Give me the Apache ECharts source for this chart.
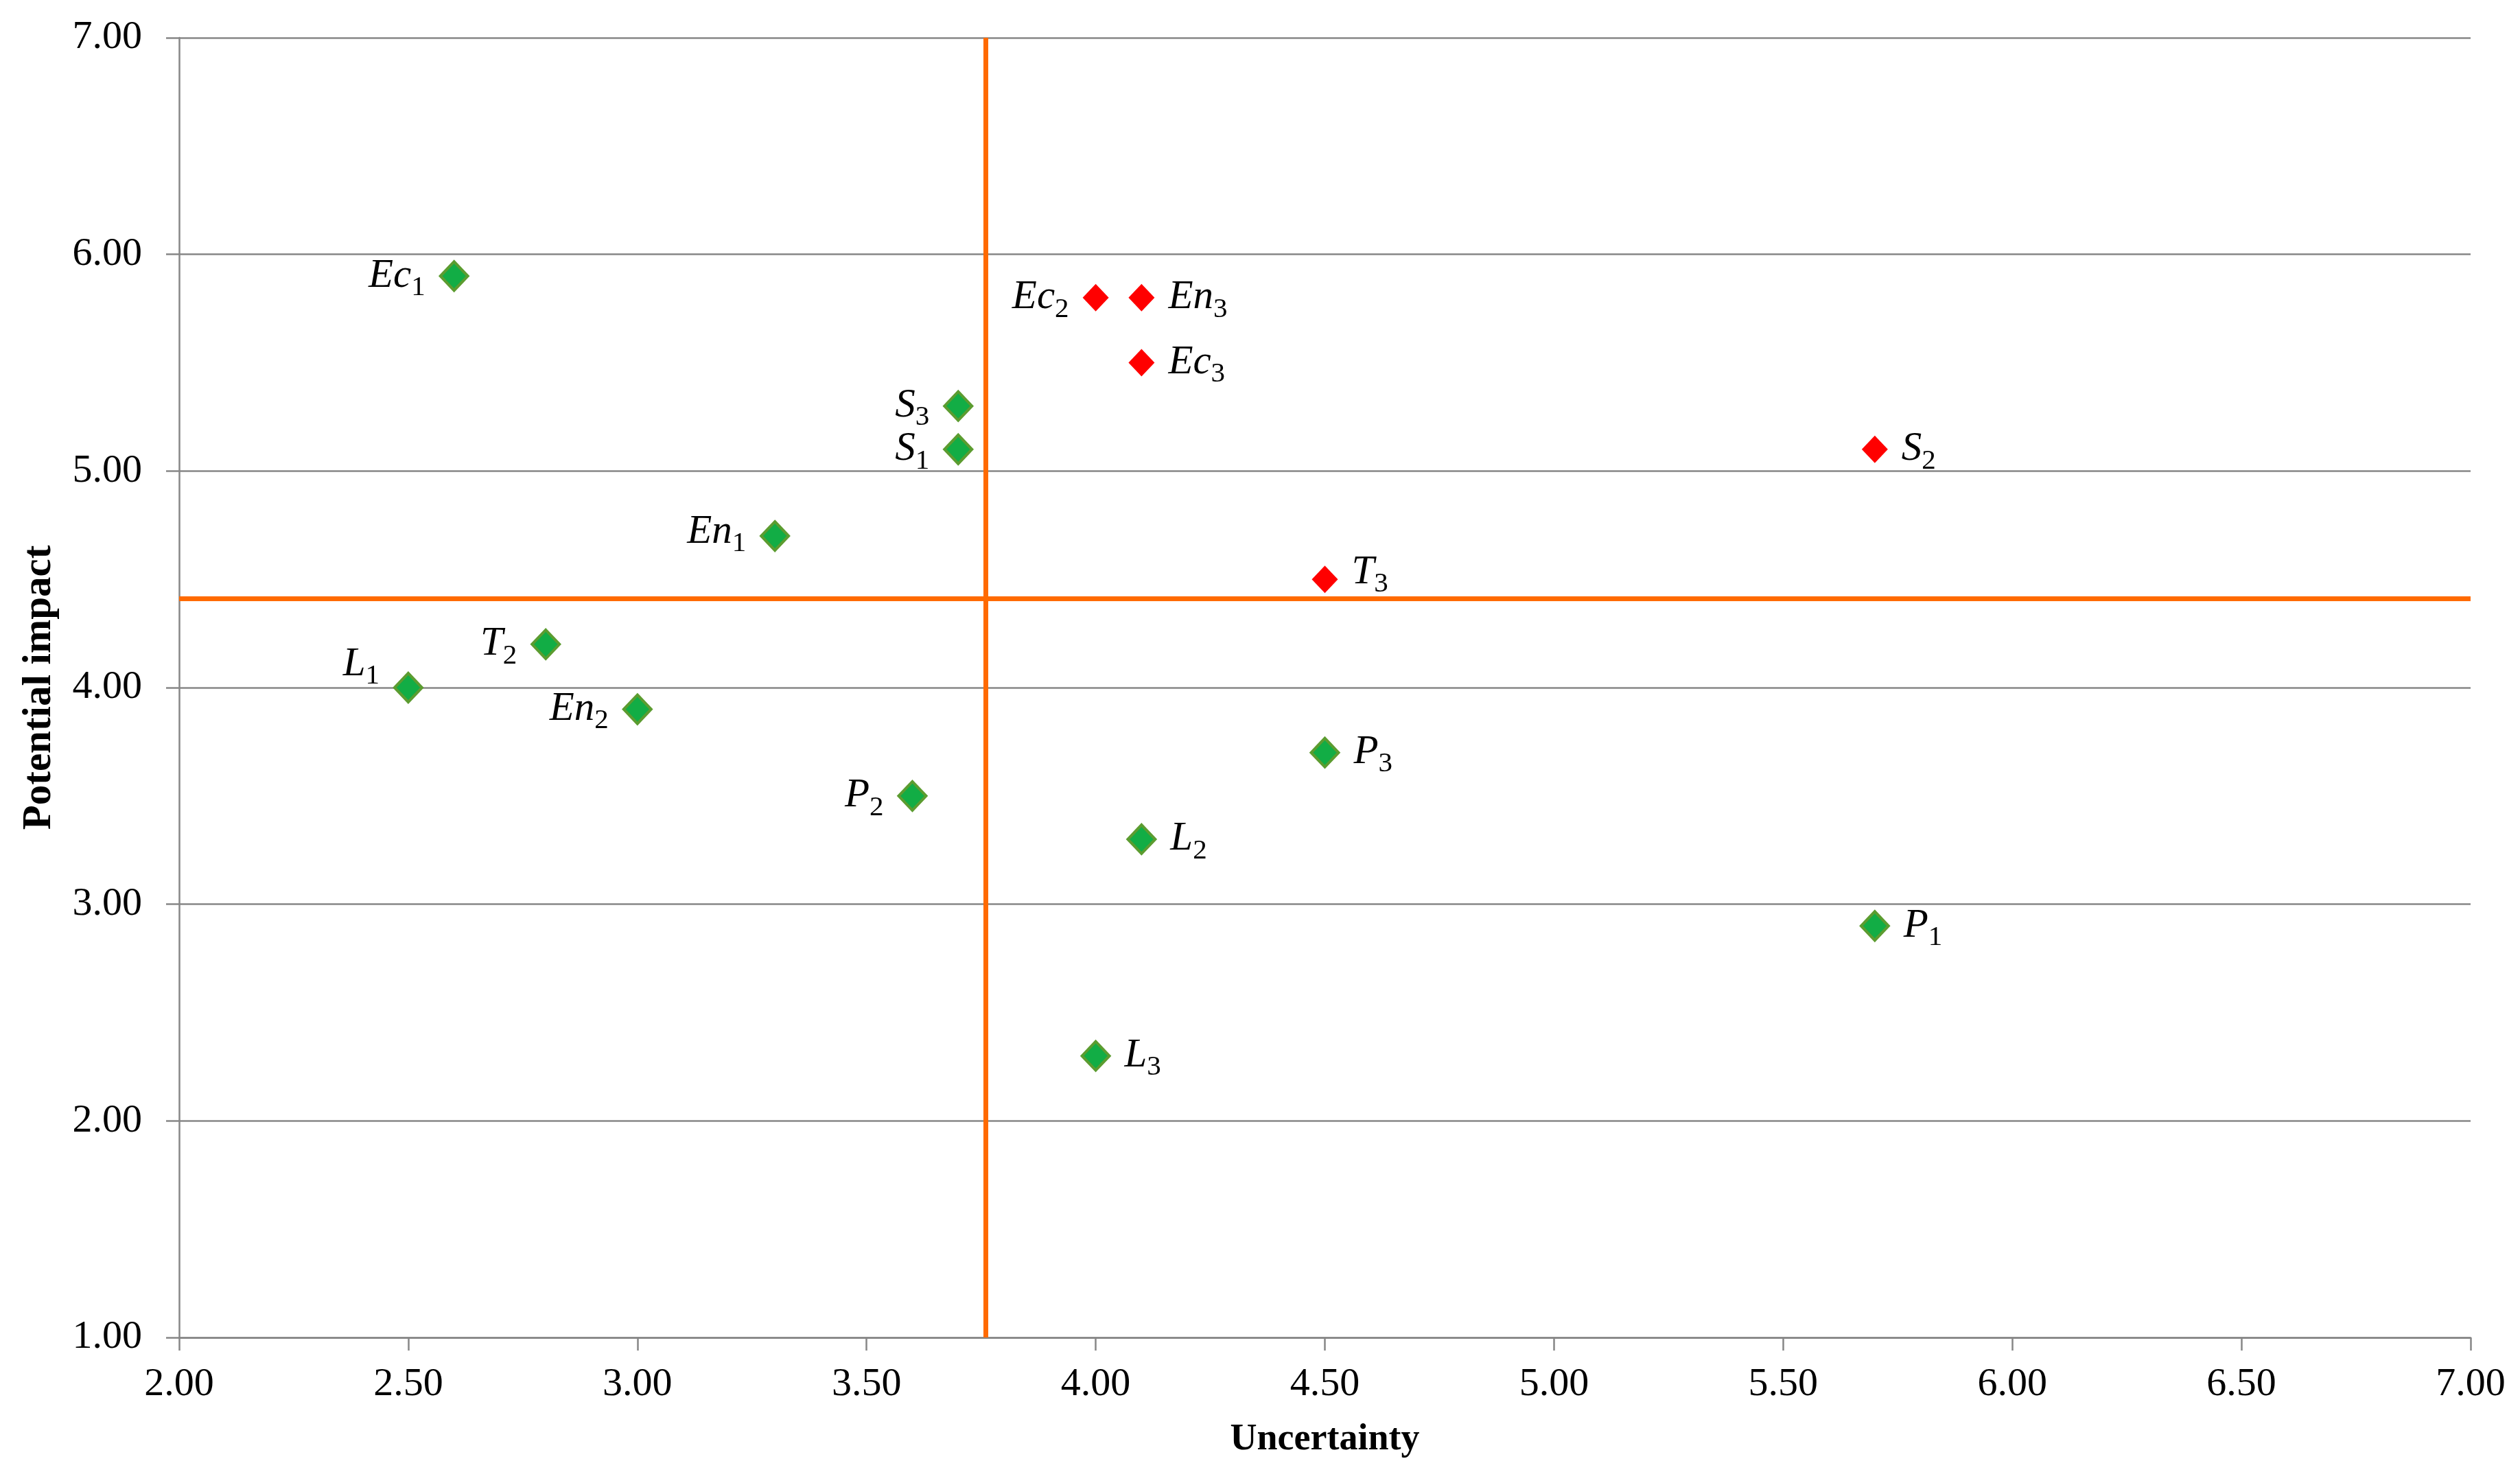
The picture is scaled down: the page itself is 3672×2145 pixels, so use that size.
<!DOCTYPE html>
<html>
<head>
<meta charset="utf-8">
<title>Uncertainty / Potential impact</title>
<script src="https://cdn.jsdelivr.net/npm/echarts@6/dist/echarts.min.js"></script>
<style>
    html, body {margin: 0; padding: 0; background: #fff;}
    #g-echart {width: 3672px; height: 2145px;}
</style>
</head>
<body>
<div id="g-echart"></div>
<script>
// 数据: 名称 / 下标 / 不确定性(x) / 潜在影响(y)
var greenNames = ['Ec', 'S', 'S', 'En', 'T', 'L', 'En', 'P', 'P', 'L', 'P', 'L'];
var greenSubs = ['1', '3', '1', '1', '2', '1', '2', '2', '3', '2', '1', '3'];
var greenX = [2.6, 3.7, 3.7, 3.3, 2.8, 2.5, 3.0, 3.6, 4.5, 4.1, 5.7, 4.0];
var greenY = [5.9, 5.3, 5.1, 4.7, 4.2, 4.0, 3.9, 3.5, 3.7, 3.3, 2.9, 2.3];

var redNames = ['Ec', 'En', 'Ec', 'S', 'T'];
var redSubs = ['2', '3', '3', '2', '3'];
var redX = [4.0, 4.1, 4.1, 5.7, 4.5];
var redY = [5.8, 5.8, 5.5, 5.1, 4.5];

// 分界线
var splitX = 3.76;
var splitY = 4.41;

var xTicks = [2, 7, 0.5];
var yTicks = [1, 7, 1];

// 标签放在左边的点, 以及少量上移
var leftLabels = ['Ec1', 'S3', 'S1', 'En1', 'T2', 'L1', 'En2', 'P2', 'Ec2'];
var labelLift = {'L1': -34, 'T3': -10, 'En1': -6};

var FONT = '"Liberation Serif", "Times New Roman", serif';

var buildData = function (names, subs, xs, ys) {
    return names.map(function (n, i) {
        var key = n + subs[i];
        var left = leftLabels.indexOf(key) >= 0;
        return {
            value: [xs[i], ys[i]],
            label: {
                show: true,
                position: left ? 'left' : 'right',
                distance: 20,
                offset: [0, labelLift[key] || 0],
                formatter: '{m|' + n + '}{s|' + subs[i] + '}'
            }
        };
    });
};

var richLabel = {
    m: {
        fontFamily: FONT,
        fontStyle: 'italic',
        fontSize: 59,
        lineHeight: 59,
        color: '#000'
    },
    s: {
        fontFamily: FONT,
        fontSize: 41,
        lineHeight: 41,
        padding: [34, 0, 0, 0],
        color: '#000'
    }
};

var gridColor = '#878787';

var mychart = echarts.init(document.getElementById('g-echart'));

var option = {
    animation: false,
    backgroundColor: '#fff',
    grid: {
        left: 261,
        right: 72,
        top: 55,
        bottom: 196
    },
    xAxis: {
        type: 'value',
        min: xTicks[0],
        max: xTicks[1],
        interval: xTicks[2],
        name: 'Uncertainty',
        nameLocation: 'middle',
        nameGap: 122,
        nameTextStyle: {
            fontFamily: FONT,
            fontWeight: 'bold',
            fontSize: 54,
            color: '#000'
        },
        axisLine: {show: true, onZero: false, lineStyle: {color: gridColor, width: 2.5}},
        axisTick: {show: true, length: 19, lineStyle: {color: gridColor, width: 2.5}},
        splitLine: {show: false},
        axisLabel: {
            margin: 40,
            fontFamily: FONT,
            fontSize: 58,
            color: '#000',
            formatter: function (v) { return v.toFixed(2); }
        }
    },
    yAxis: {
        type: 'value',
        min: yTicks[0],
        max: yTicks[1],
        interval: yTicks[2],
        name: 'Potential impact',
        nameLocation: 'middle',
        nameGap: 174,
        nameTextStyle: {
            fontFamily: FONT,
            fontWeight: 'bold',
            fontSize: 59,
            color: '#000'
        },
        axisLine: {show: true, onZero: false, lineStyle: {color: gridColor, width: 2.5}},
        axisTick: {show: true, length: 19, lineStyle: {color: gridColor, width: 2.5}},
        splitLine: {show: true, lineStyle: {color: gridColor, width: 2.5}},
        axisLabel: {
            margin: 54,
            fontFamily: FONT,
            fontSize: 58,
            color: '#000',
            formatter: function (v) { return v.toFixed(2); }
        }
    },
    series: [
        {
            name: 'lines',
            type: 'scatter',
            data: [],
            silent: true,
            markLine: {
                silent: true,
                symbol: ['none', 'none'],
                label: {show: false},
                lineStyle: {color: '#FF6A00', width: 7, type: 'solid'},
                data: [
                    {xAxis: splitX},
                    {yAxis: splitY}
                ]
            }
        },
        {
            name: 'green',
            type: 'scatter',
            symbol: 'diamond',
            symbolSize: [40, 42],
            itemStyle: {
                color: '#12AD45',
                borderColor: '#5C9C30',
                borderWidth: 4,
                opacity: 1
            },
            label: {rich: richLabel},
            data: buildData(greenNames, greenSubs, greenX, greenY),
            z: 5
        },
        {
            name: 'red',
            type: 'scatter',
            symbol: 'diamond',
            symbolSize: [38, 40],
            itemStyle: {
                color: '#FF0000',
                opacity: 1
            },
            label: {rich: richLabel},
            data: buildData(redNames, redSubs, redX, redY),
            z: 5
        }
    ]
};

mychart.setOption(option);
</script>
</body>
</html>
